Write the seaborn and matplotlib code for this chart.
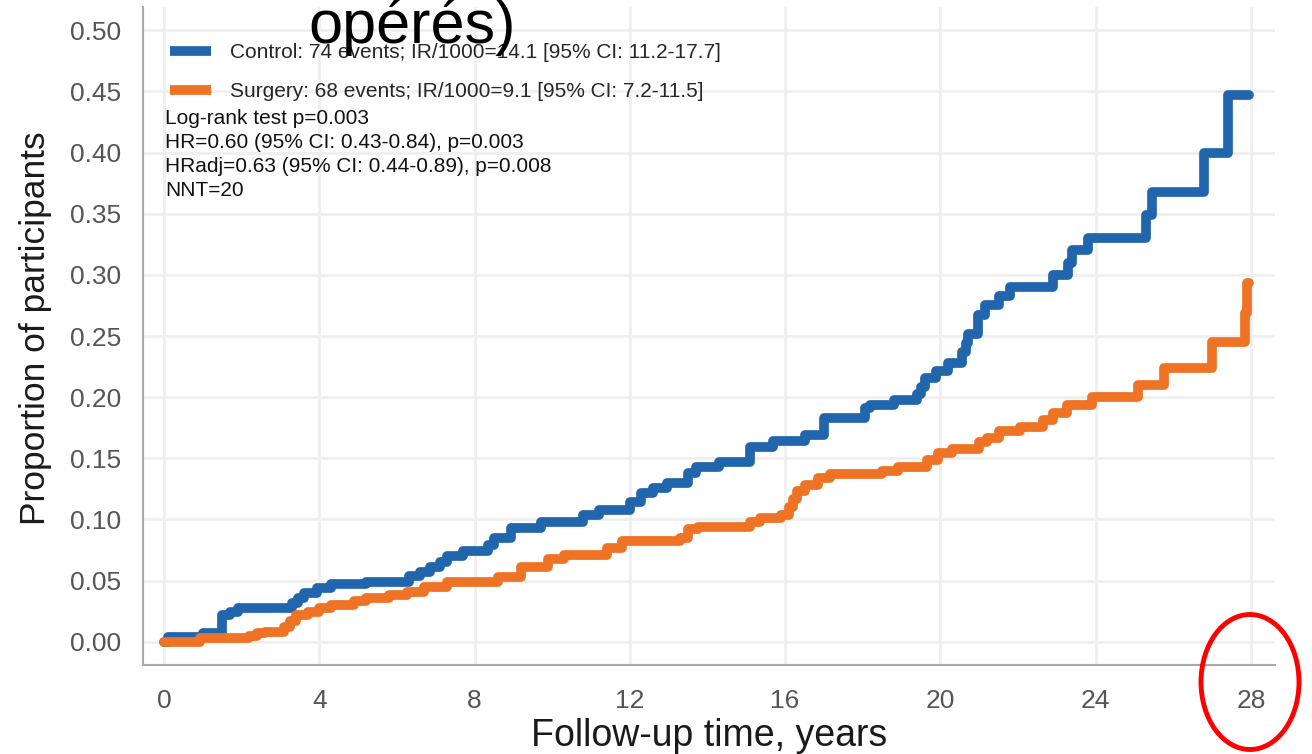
import pandas as pd
import seaborn as sns
import matplotlib.pyplot as plt
from matplotlib.lines import Line2D
from matplotlib.patches import Ellipse

# Step points (time in years, cumulative proportion)
control_t = [0, 0.1, 1.0, 1.5, 1.7, 1.9, 3.3, 3.45, 3.6, 3.95,
             4.3, 5.2, 6.3, 6.6, 6.85, 7.1, 7.3, 7.7, 8.35, 8.5,
             8.95, 9.7, 10.8, 11.2, 12.0, 12.3, 12.6, 12.95, 13.5, 13.7,
             14.3, 15.1, 15.7, 16.5, 17.0, 18.05, 18.2, 18.8, 19.4, 19.5,
             19.6, 19.9, 20.2, 20.55, 20.65, 20.7, 20.97, 21.15, 21.5, 21.8,
             22.9, 23.3, 23.4, 23.8, 25.3, 25.45, 26.8, 27.4, 27.95]
control_y = [0, 0.004, 0.0075, 0.022, 0.0245, 0.0275, 0.032, 0.036, 0.040, 0.044,
             0.047, 0.049, 0.054, 0.057, 0.061, 0.065, 0.070, 0.074, 0.079, 0.085,
             0.093, 0.098, 0.104, 0.108, 0.114, 0.122, 0.126, 0.130, 0.138, 0.143,
             0.147, 0.159, 0.164, 0.169, 0.183, 0.191, 0.194, 0.198, 0.203, 0.208,
             0.216, 0.221, 0.228, 0.237, 0.244, 0.252, 0.267, 0.275, 0.283, 0.290,
             0.300, 0.310, 0.320, 0.330, 0.349, 0.368, 0.400, 0.447, 0.447]

surgery_t = [0, 0.93, 2.2, 2.4, 2.6, 3.1, 3.25, 3.4, 3.7, 4.0,
             4.3, 4.9, 5.2, 5.8, 6.25, 6.7, 7.3, 8.6, 9.2, 9.9,
             10.3, 11.4, 11.8, 13.3, 13.5, 13.75, 15.1, 15.35, 15.9, 16.1,
             16.2, 16.3, 16.5, 16.85, 17.15, 18.5, 18.9, 19.65, 19.95, 20.3,
             21.0, 21.2, 21.5, 22.05, 22.65, 22.9, 23.25, 23.9, 25.1, 25.75,
             27.0, 27.85, 27.9, 27.95]
surgery_y = [0, 0.003, 0.005, 0.007, 0.008, 0.012, 0.017, 0.022, 0.0245, 0.028,
             0.030, 0.033, 0.036, 0.038, 0.041, 0.045, 0.049, 0.053, 0.061, 0.068,
             0.071, 0.077, 0.082, 0.085, 0.092, 0.094, 0.098, 0.101, 0.104, 0.110,
             0.117, 0.123, 0.128, 0.134, 0.137, 0.140, 0.143, 0.149, 0.154, 0.158,
             0.163, 0.167, 0.172, 0.176, 0.181, 0.187, 0.194, 0.200, 0.210, 0.224,
             0.245, 0.269, 0.293, 0.293]

groups = ['Control', 'Surgery']
legend_labels = ['Control: 74 events; IR/1000=14.1 [95% CI: 11.2-17.7]',
                 'Surgery: 68 events; IR/1000=9.1 [95% CI: 7.2-11.5]']
stats_lines = ['Log-rank test p=0.003',
               'HR=0.60 (95% CI: 0.43-0.84), p=0.003',
               'HRadj=0.63 (95% CI: 0.44-0.89), p=0.008',
               'NNT=20']
x_ticks = [0, 4, 8, 12, 16, 20, 24, 28]
y_ticks = [0.00, 0.05, 0.10, 0.15, 0.20, 0.25, 0.30, 0.35, 0.40, 0.45, 0.50]
colors = {'Control': '#2166ac', 'Surgery': '#ee7324'}

df = pd.concat([
    pd.DataFrame({'time': control_t, 'prop': control_y, 'group': 'Control'}),
    pd.DataFrame({'time': surgery_t, 'prop': surgery_y, 'group': 'Surgery'}),
])

sns.set_theme(style='whitegrid')
plt.rcParams['font.family'] = ['Liberation Sans', 'DejaVu Sans']

fig = plt.figure(figsize=(13.12, 7.54), dpi=100)
ax = fig.add_axes([0.109, 0.118, 0.8628, 0.8727])

sns.lineplot(data=df, x='time', y='prop', hue='group', hue_order=groups,
             palette=colors, drawstyle='steps-post', estimator=None,
             lw=7, legend=False, ax=ax, solid_capstyle='round')

ax.set_xlim(-0.54, 28.62)
ax.set_ylim(-0.019, 0.519)
ax.set_xticks(x_ticks)
ax.set_yticks(y_ticks)
ax.set_yticklabels([f'{v:.2f}' for v in y_ticks])
ax.grid(True, color='#efefef', lw=2)
ax.set_axisbelow(True)
for s in ['top', 'right']:
    ax.spines[s].set_visible(False)
for s in ['left', 'bottom']:
    ax.spines[s].set_color('#aaaaaa')
    ax.spines[s].set_linewidth(1.5)
ax.tick_params(axis='both', direction='out', length=10, width=1.3,
               color='#aaaaaa', labelsize=19, labelcolor='#555555')
ax.tick_params(axis='x', pad=7)
ax.tick_params(axis='y', pad=6)
ax.set_xlabel('Follow-up time, years', fontsize=27, color='#1a1a1a', labelpad=4)
ax.set_ylabel('Proportion of participants', fontsize=25.5, color='#1a1a1a')
ax.yaxis.set_label_coords(-0.080, 0.512)

handles = [Line2D([], [], color=colors[g], lw=7, solid_capstyle='butt') for g in groups]
ax.legend(handles, legend_labels, loc='upper left', bbox_to_anchor=(0.0239, 0.945),
          frameon=False, borderpad=0, borderaxespad=0, handlelength=1.95,
          handletextpad=0.95, labelspacing=0.97, prop={'size': 15})

ax.text(0.0194, 0.845, '\n'.join(stats_lines), transform=ax.transAxes,
        ha='left', va='top', fontsize=15, linespacing=1.33, color='#111111')

fig.text(412 / 1312, 1 - 43 / 754, 'opérés)', fontsize=44, ha='center',
         va='baseline', color='black', zorder=10)

fig.add_artist(Ellipse((1250 / 1312, 1 - 682 / 754), 98 / 1312, 135 / 754,
                       transform=fig.transFigure, fill=False,
                       edgecolor='#ff0000', lw=3.5))

fig.savefig('out.png', dpi=100)
